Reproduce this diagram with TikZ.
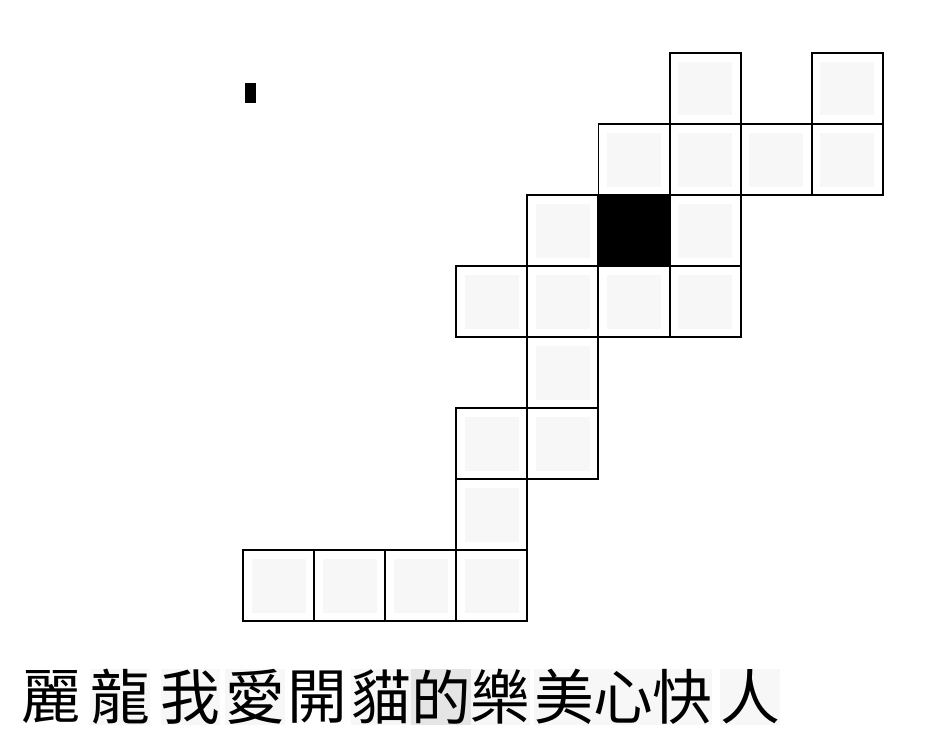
\documentclass[tikz,border=0pt]{standalone}
\usepackage{fontspec}
\newfontfamily\cjk{Noto Sans CJK TC}
\usetikzlibrary{positioning}

\begin{document}
\begin{tikzpicture}[x=0.02cm, y=-0.02cm,
  cell/.style={draw, line width=1.1pt, minimum size=1.42cm, inner sep=0pt,
    path picture={\fill[black!3] ([shift={(0.17cm,-0.17cm)}]path picture bounding box.north west)
      rectangle ([shift={(-0.17cm,0.17cm)}]path picture bounding box.south east);}},
  dark/.style={draw, line width=1.1pt, minimum size=1.42cm, inner sep=0pt, fill=black},
  glyph/.style={inner sep=0pt, minimum width=1.16cm, minimum height=1.12cm, fill=black!3,
    font=\cjk\fontsize{34}{34}\selectfont}]
%%%
\useasboundingbox (0,0) rectangle (935,744);

% small mark top left
\node (mark) at (250.5,93) [fill=black, inner sep=0pt, minimum width=0.22cm, minimum height=0.4cm] {};

% row 0
\node[cell] (c06) at (705.1,88.5) {};
\node[cell] (c08) at (847.3,88.5) {};
% row 1
\node[cell] (c15) at (634.0,159.5) {};
\node[cell] (c16) at (705.1,159.5) {};
\node[cell] (c17) at (776.2,159.5) {};
\node[cell] (c18) at (847.3,159.5) {};
% row 2
\node[cell] (c24) at (562.9,230.5) {};
\node[dark] (c25) at (634.0,230.5) {};  % black cell
\node[cell] (c26) at (705.1,230.5) {};
% row 3
\node[cell] (c33) at (491.8,301.5) {};
\node[cell] (c34) at (562.9,301.5) {};
\node[cell] (c35) at (634.0,301.5) {};
\node[cell] (c36) at (705.1,301.5) {};
% row 4
\node[cell] (c44) at (562.9,372.5) {};
% row 5
\node[cell] (c53) at (491.8,443.5) {};
\node[cell] (c54) at (562.9,443.5) {};
% row 6
\node[cell] (c63) at (491.8,514.5) {};
% row 7
\node[cell] (c70) at (278.5,585.5) {};
\node[cell] (c71) at (349.6,585.5) {};
\node[cell] (c72) at (420.7,585.5) {};
\node[cell] (c73) at (491.8,585.5) {};

% characters
\node[glyph, fill=white] (li)   at (51.5,697)  {麗};
\node[glyph] (long) at (120,697)   {龍};
\node[glyph] (wo)   at (190.5,697) {我};
\node[glyph] (ai)   at (255,697)   {愛};
\node[glyph, fill=white] (kai)  at (317.5,697) {開};
\node[glyph] (mao)  at (381,697)   {貓};
\node[glyph, fill=black!10] (de) at (441,697) {的};
\node[glyph] (le)   at (500.5,697) {樂};
\node[glyph] (mei)  at (564,697)   {美};
\node[glyph] (xin)  at (623.5,697) {心};
\node[glyph] (kuai) at (682.5,697) {快};
\node[glyph] (ren)  at (750,697)   {人};
%%%
\end{tikzpicture}
\end{document}
